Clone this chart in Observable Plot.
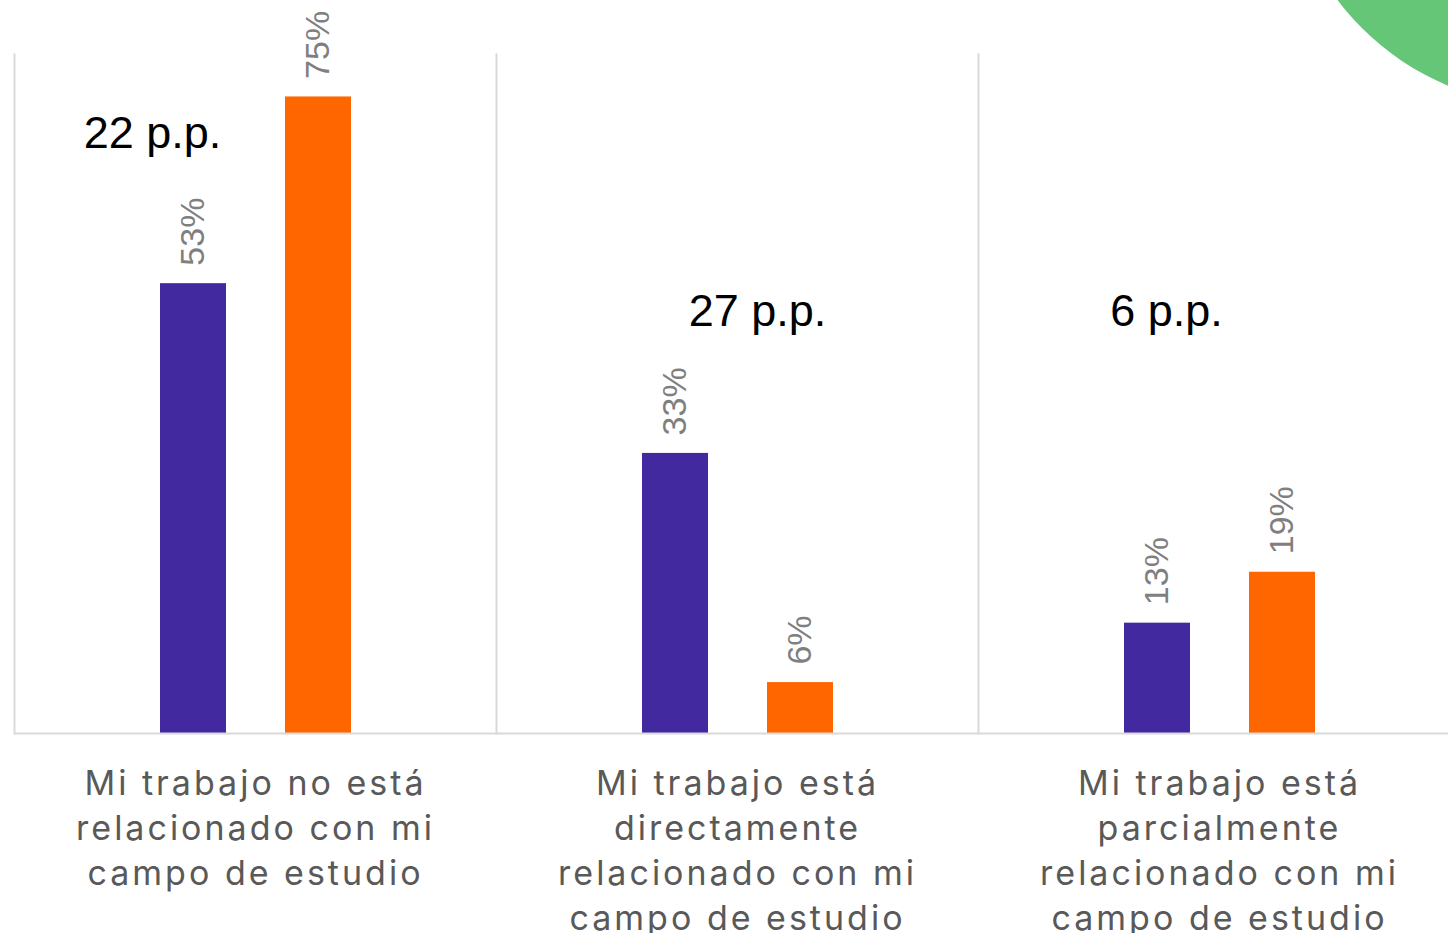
<!DOCTYPE html>
<html>
<head>
<meta charset="utf-8">
<script src="https://cdn.jsdelivr.net/npm/d3@7"></script>
<script src="https://cdn.jsdelivr.net/npm/@observablehq/plot@0.6"></script>
<style>
  html, body { margin: 0; padding: 0; background: #fff; overflow: hidden; width: 1448px; height: 933px; }
  #wrap { position: relative; width: 1448px; height: 933px; overflow: hidden; }
  #deco { position: absolute; left: 1284px; top: -426px; width: 532px; height: 532px; border-radius: 50%; background: #65c677; }
  #chart { position: absolute; left: 0; top: 0; }
  g[aria-label="fx-axis tick label"] text { letter-spacing: 3px; }
</style>
</head>
<body>
<div id="wrap">
  <div id="deco"></div>
  <div id="chart"></div>
</div>
<script>
const categories = [
  "Mi trabajo no está relacionado con mi campo de estudio",
  "Mi trabajo está directamente relacionado con mi campo de estudio",
  "Mi trabajo está parcialmente relacionado con mi campo de estudio"
];
const tickLabels = [
  "Mi trabajo no está\nrelacionado con mi\ncampo de estudio",
  "Mi trabajo está\ndirectamente\nrelacionado con mi\ncampo de estudio",
  "Mi trabajo está\nparcialmente\nrelacionado con mi\ncampo de estudio"
];
const series = ["Serie 1", "Serie 2"];
const serie1 = [53, 33, 13];
const serie2 = [75, 6, 19];
const gaps = ["22 p.p.", "27 p.p.", "6 p.p."];

const colors = ["#4329a0", "#ff6600"];

const data = categories.flatMap((c, i) => [
  {cat: c, serie: series[0], value: serie1[i]},
  {cat: c, serie: series[1], value: serie2[i]}
]);
const labelOf = new Map(categories.map((c, i) => [c, tickLabels[i]]));
const gapData = categories.map((c, i) => ({cat: c, serie: series[0], label: gaps[i]}));

const annFont = "Liberation Sans, Arial, sans-serif";

const chart = Plot.plot({
  width: 1460,
  height: 933,
  marginLeft: 14,
  marginRight: 0,
  marginTop: 54,
  marginBottom: 200,
  style: {background: "transparent", overflow: "visible", maxWidth: "none"},
  fx: {domain: categories, padding: 0, label: null},
  x: {domain: series, paddingInner: 0.472, paddingOuter: 1.164, axis: null},
  y: {domain: [0, 80], axis: null},
  color: {domain: series, range: colors},
  marks: [
    Plot.frame({anchor: "left", stroke: "#d9d9d9", strokeWidth: 2}),
    Plot.barY(data, {fx: "cat", x: "serie", y: "value", fill: "serie"}),
    Plot.ruleY([0], {stroke: "#d9d9d9", strokeWidth: 2}),
    Plot.text(data, {
      fx: "cat", x: "serie", y: "value",
      text: d => d.value + "%",
      rotate: -90, textAnchor: "start", lineAnchor: "middle",
      dy: -18, fontSize: 34, fill: "#7f7f7f",
      fontFamily: annFont
    }),
    Plot.text(gapData.slice(0, 1), {fx: "cat", x: "serie", y: 69, text: "label", dx: -41, lineAnchor: "bottom", fontSize: 45, fill: "#000", fontFamily: annFont}),
    Plot.text(gapData.slice(1, 2), {fx: "cat", x: "serie", y: 48, text: "label", dx: 82, lineAnchor: "bottom", fontSize: 45, fill: "#000", fontFamily: annFont}),
    Plot.text(gapData.slice(2, 3), {fx: "cat", x: "serie", y: 48, text: "label", dx: 9, lineAnchor: "bottom", fontSize: 45, fill: "#000", fontFamily: annFont}),
    Plot.axisFx({
      anchor: "bottom", tickSize: 0, tickPadding: 29, label: null,
      tickFormat: d => labelOf.get(d),
      fontSize: 34, lineHeight: 1.33, fill: "#595959",
      fontFamily: "Inter, sans-serif"
    })
  ]
});
document.getElementById("chart").appendChild(chart);
</script>
</body>
</html>
